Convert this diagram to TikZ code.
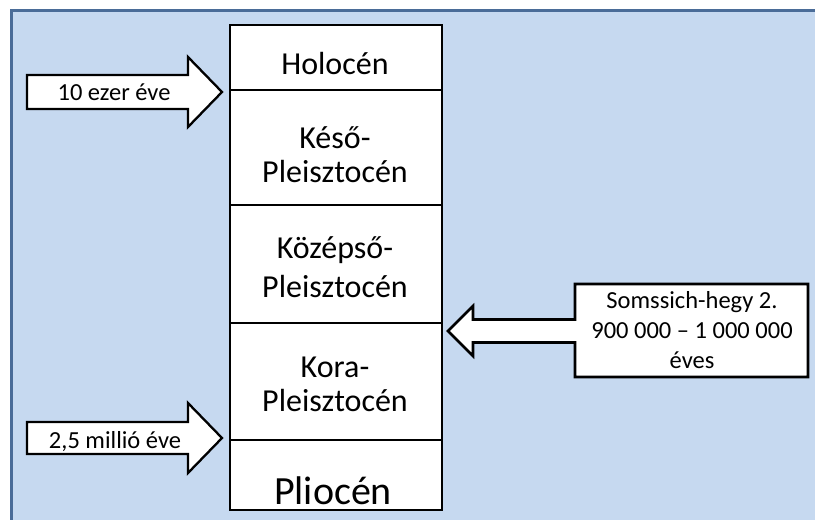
\documentclass[tikz,border=0pt]{standalone}
\usepackage{fontspec}
\setmainfont{Carlito}
\definecolor{bgfill}{HTML}{C6D9F0}
\definecolor{bgline}{HTML}{4A6C98}
\begin{document}
\begin{tikzpicture}[x=1pt,y=-1pt,
  cell/.style={draw=black, fill=white, line width=2.8pt, minimum width=212, inner sep=0pt},
  celltxt/.style={font=\fontsize{32}{36}\selectfont, anchor=base, inner sep=0pt},
  bigtxt/.style={font=\fontsize{40}{44}\selectfont, anchor=base, inner sep=0pt},
  smalltxt/.style={font=\fontsize{24.5}{29}\selectfont, anchor=base, inner sep=0pt},
  blockarrow/.style={draw=black, fill=white, line width=2.3pt, line join=miter}]
\useasboundingbox (0,0) rectangle (815,520);
\fill[bgfill] (11,10) rectangle (830,530);
\draw[bgline, line width=3pt] (11,530) -- (11,10) -- (830,10);

% column of epochs
\node[cell, minimum height=65]  (holo)  at (336,57.5) {};
\node[cell, minimum height=115] (keso)  at (336,147.5) {};
\node[cell, minimum height=118] (kozep) at (336,264) {};
\node[cell, minimum height=117] (kora)  at (336,381.5) {};
\node[cell, minimum height=70]  (plio)  at (336,475) {};

\node[celltxt] (holot) at (335,74) {Holocén};
\node[celltxt] (keso1) at (335,148) {Késő-};
\node[celltxt] (keso2) at (335,182) {Pleisztocén};
\node[celltxt] (kozep1) at (335,258) {Középső-};
\node[celltxt] (kozep2) at (335,297) {Pleisztocén};
\node[celltxt] (kora1) at (335,377) {Kora-};
\node[celltxt] (kora2) at (335,411) {Pleisztocén};
\node[bigtxt] (plioT) at (333,504) {Pliocén};

% left block arrows
\draw[blockarrow] (27,75) -- (188,75) -- (188,57) -- (222,92) -- (188,127) -- (188,109) -- (27,109) -- cycle;
\node[smalltxt] (a1) at (114,100) {10 ezer éve};
\draw[blockarrow] (27,422) -- (188,422) -- (188,403) -- (222,438) -- (188,473) -- (188,454) -- (27,454) -- cycle;
\node[smalltxt] (a2) at (115,448) {2,5 millió éve};

% right callout arrow
\draw[blockarrow, line width=2.6pt] (575,284) -- (808,284) -- (808,377) -- (575,377) -- (575,342.5) -- (473,342.5) -- (473,356) -- (448,331) -- (473,306) -- (473,319.5) -- (575,319.5) -- cycle;
\node[smalltxt] (c1) at (692,308) {Somssich-hegy 2.};
\node[smalltxt] (c2) at (692,338) {900 000 – 1 000 000};
\node[smalltxt] (c3) at (692,368) {éves};
\end{tikzpicture}
\end{document}
